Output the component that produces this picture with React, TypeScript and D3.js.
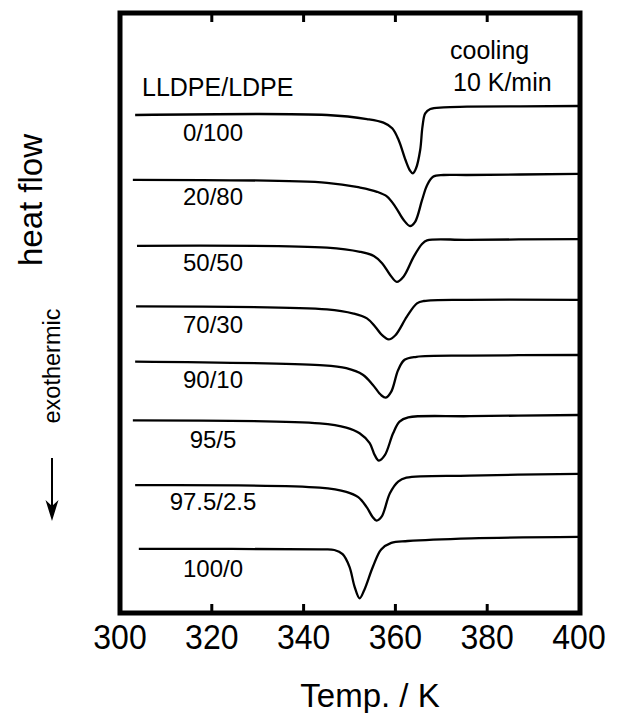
import React from "react";
import * as d3 from "d3";

// Blend ratios (LLDPE/LDPE), top to bottom
const blendLabels = ["0/100", "20/80", "50/50", "70/30", "90/10", "95/5", "97.5/2.5", "100/0"];
// Label baselines in heat-flow units (a.u.)
const labelHF = [78.7, 68.0, 57.0, 46.7, 37.5, 27.5, 17.2, 6.0];

const xTicks = [300, 320, 340, 360, 380, 400];

// DSC cooling traces: [temperature K, heat flow a.u.]
const trace0_100: [number, number][] = [
  [303.3, 83.0], [345.1, 83.0], [353.8, 82.33], [357.4, 81.72], [359.3, 80.78], [360.7, 78.83],
  [362.2, 75.5], [363.2, 73.72], [363.8, 73.28], [364.5, 74.12], [365.4, 77.17], [365.9, 81.05],
  [366.5, 83.28], [367.6, 84.0], [370.5, 84.28], [375.6, 84.38], [400, 84.5],
];
const trace20_80: [number, number][] = [
  [302.8, 72.2], [345.1, 71.7], [352.3, 70.9], [356.0, 70.2], [358.2, 69.4], [360.0, 67.7],
  [361.8, 65.5], [363.2, 64.5], [364.3, 65.2], [365.8, 68.8], [366.9, 71.3], [368.2, 72.7],
  [370.5, 73.0], [375.6, 73.0], [400, 73.2],
];
const trace50_50: [number, number][] = [
  [303.7, 61.2], [345.1, 60.9], [352.3, 60.2], [355.3, 59.5], [357.1, 58.3], [358.9, 56.3],
  [360.3, 55.2], [361.8, 56.1], [364.0, 59.4], [365.8, 61.5], [366.9, 62.1], [375.6, 62.2], [400, 62.3],
];
const trace70_30: [number, number][] = [
  [303.5, 51.1], [345.1, 50.6], [350.9, 49.9], [353.8, 49.1], [355.6, 47.7], [357.1, 46.3],
  [358.5, 45.6], [360.0, 46.3], [362.5, 49.4], [364.7, 51.6], [366.2, 52.0], [375.6, 52.2], [400, 52.2],
];
const trace90_10: [number, number][] = [
  [303.3, 41.9], [343.5, 41.3], [349.3, 40.8], [352.9, 39.7], [355.1, 38.0], [356.9, 36.3],
  [357.9, 35.9], [359.1, 36.9], [360.6, 40.5], [362.0, 42.2], [364.6, 42.7], [376.2, 42.9], [400, 43.0],
];
const trace95_5: [number, number][] = [
  [302.8, 32.1], [343.5, 31.6], [349.3, 30.9], [352.2, 29.95], [354.4, 28.3], [355.5, 26.3],
  [356.4, 25.4], [357.7, 26.3], [359.5, 29.95], [360.9, 31.9], [362.8, 32.6], [376.2, 32.8], [400, 33.0],
];
const trace97_5: [number, number][] = [
  [303.3, 21.3], [343.5, 20.9], [349.3, 20.2], [351.9, 19.3], [353.7, 17.7], [355.0, 16.05],
  [355.9, 15.4], [357.0, 16.05], [358.8, 19.95], [360.6, 21.9], [362.4, 22.55], [376.2, 22.9], [400, 23.2],
];
const trace100_0: [number, number][] = [
  [304.1, 10.7], [343.8, 10.6], [346.7, 10.5], [348.5, 9.8], [350.0, 7.7], [351.1, 4.4],
  [352.2, 2.45], [353.2, 3.8], [355.1, 7.7], [356.9, 10.6], [359.1, 11.7], [362.7, 12.0],
  [376.5, 12.45], [400, 12.7],
];

const traces = [trace0_100, trace20_80, trace50_50, trace70_30, trace90_10, trace95_5, trace97_5, trace100_0];

const W = 633;
const H = 713;
const FONT = "'Liberation Sans', Arial, Helvetica, sans-serif";

export default function App() {
  const left = 120, right = 579, top = 13, bottom = 613;
  const x = d3.scaleLinear().domain([300, 400]).range([left, right]);
  const y = d3.scaleLinear().domain([0, 100]).range([bottom, top]);
  const line = d3
    .line<[number, number]>()
    .x((d) => x(d[0]))
    .y((d) => y(d[1]))
    .curve(d3.curveCatmullRom.alpha(0.5));

  const innerTicks = xTicks.filter((t) => t > 300 && t < 400);

  return (
    <svg
      width={W}
      height={H}
      viewBox={`0 0 ${W} ${H}`}
      style={{ position: "absolute", left: 0, top: 0, background: "#fff" }}
      fontFamily={FONT}
    >
      <rect x={0} y={0} width={W} height={H} fill="#fff" />
      {/* traces */}
      {traces.map((t, i) => (
        <path key={i} d={line(t) || ""} fill="none" stroke="#000" strokeWidth={2.3} strokeLinejoin="round" />
      ))}
      {/* frame */}
      <rect x={left} y={top} width={right - left + 1} height={bottom - top} fill="none" stroke="#000" strokeWidth={5} />
      {/* ticks */}
      {innerTicks.map((t) => (
        <g key={t}>
          <line x1={x(t)} x2={x(t)} y1={bottom} y2={bottom - 9} stroke="#000" strokeWidth={3} />
          <line x1={x(t)} x2={x(t)} y1={top} y2={top + 9} stroke="#000" strokeWidth={3} />
        </g>
      ))}
      {/* tick labels */}
      {xTicks.map((t) => (
        <text
          key={t}
          transform={`translate(${x(t)},649) scale(1,1.1)`}
          textAnchor="middle"
          fontSize={32}
          fill="#000"
        >
          {t}
        </text>
      ))}
      <text x={370} y={707} textAnchor="middle" fontSize={33} fill="#000">
        Temp. / K
      </text>
      {/* y labels */}
      <text transform="translate(42,200) rotate(-90)" textAnchor="middle" fontSize={33} fill="#000">
        heat flow
      </text>
      <text transform="translate(60,366) rotate(-90)" textAnchor="middle" fontSize={23.5} fill="#000">
        exothermic
      </text>
      <line x1={52} x2={52} y1={458} y2={512} stroke="#000" strokeWidth={2} />
      <path d="M52,521 L45.5,500 L52,506 L58.5,500 Z" fill="#000" />
      {/* annotations */}
      <text x={142} y={96} fontSize={25} fill="#000">LLDPE/LDPE</text>
      <text x={450} y={59} fontSize={25} fill="#000">cooling</text>
      <text x={453} y={91} fontSize={25} fill="#000">10 K/min</text>
      {blendLabels.map((lab, i) => (
        <text key={lab} x={213} y={y(labelHF[i])} textAnchor="middle" fontSize={24} fill="#000">
          {lab}
        </text>
      ))}
    </svg>
  );
}
